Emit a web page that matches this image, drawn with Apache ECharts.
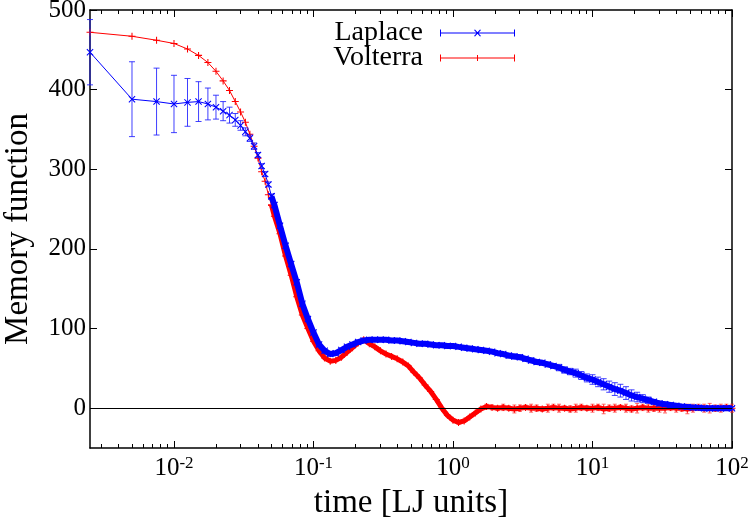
<!DOCTYPE html>
<html>
<head>
<meta charset="utf-8">
<script src="https://cdn.jsdelivr.net/npm/echarts@6/dist/echarts.min.js"></script>
<style>
  html, body { margin: 0; padding: 0; background: #fff; }
  #chartBox { width: 750px; height: 525px; }
</style>
</head>
<body>
<div id="chartBox"></div>
<script>
// time [LJ units] : fine steps at first, then log spaced
var time = [
  0.0025, 0.005, 0.0075, 0.01, 0.0125, 0.015, 0.0175, 0.02, 0.0225, 0.025,
  0.0275, 0.03, 0.0325, 0.035, 0.0375, 0.04, 0.0425, 0.045, 0.0475, 0.05,
  0.05248, 0.05754, 0.0631, 0.06918, 0.07586, 0.08318, 0.0912, 0.1, 0.1096, 0.1202,
  0.1318, 0.1445, 0.1585, 0.1738, 0.1905, 0.2089, 0.2291, 0.2512, 0.2754, 0.302,
  0.3311, 0.3631, 0.3981, 0.4365, 0.4786, 0.5248, 0.5754, 0.631, 0.6918, 0.7586,
  0.8318, 0.912, 1, 1.096, 1.202, 1.318, 1.445, 1.585, 1.738, 1.905,
  2.089, 2.291, 2.512, 2.754, 3.02, 3.311, 3.631, 3.981, 4.365, 4.786,
  5.248, 5.754, 6.31, 6.918, 7.586, 8.318, 9.12, 10, 10.96, 12.02,
  13.18, 14.45, 15.85, 17.38, 19.05, 20.89, 22.91, 25.12, 27.54, 30.2,
  33.11, 36.31, 39.81, 43.65, 47.86, 52.48, 57.54, 63.1, 69.18, 75.86,
  83.18, 91.2, 100
];
var laplace = [
  447, 388, 385, 382, 384, 385, 382, 378, 373, 368,
  362, 355, 347, 339, 329, 318, 304, 294, 281, 266,
  255, 229, 204, 181, 158, 131, 112, 95, 80, 72,
  68, 69, 73, 77, 80, 83, 85, 86, 86, 86,
  86, 85, 85, 84, 83, 82, 81, 81, 80, 79,
  79, 78, 78, 77, 76, 75, 74, 73, 72, 71,
  69, 68, 66, 65, 64, 62, 60, 58, 57, 55,
  53, 51, 48, 46, 44, 41, 38, 36, 33, 30,
  27, 24, 22, 19, 16, 14, 12, 10, 8, 6,
  5, 4, 3, 2, 1.5, 1, 0.5, 0, 0, 0,
  0, 0, 0
];
var laplaceErr = [
  41, 47, 42, 36, 30, 25, 20, 15, 12, 10,
  8, 6, 5, 4, 4, 3, 3, 3, 3, 3,
  3, 3, 3, 3, 3, 2, 2, 2, 2, 2,
  2, 2, 2, 2, 2, 2, 2, 2, 2, 2,
  2, 2, 2, 2, 2, 2, 2, 2, 2, 2,
  2, 2, 2, 2, 2, 2, 2, 2, 2, 2,
  2, 2, 3, 3, 3, 3, 3, 3, 3, 3,
  3, 4, 4, 4, 5, 5, 5, 6, 6, 7,
  7, 8, 8, 8, 7, 6, 5, 4, 3, 3,
  3, 2, 2, 2, 2, 2, 2, 2, 2, 2,
  2, 2, 2
];
var volterra = [
  472, 467, 462, 458, 451, 443, 434, 423, 411, 399,
  385, 372, 359, 344, 329, 314, 297, 285, 268, 255,
  241, 219, 191, 167, 140, 117, 100, 84, 72, 63,
  59, 60, 64, 70, 76, 82, 86, 81, 77, 72,
  68, 65, 62, 58, 53, 45, 38, 29, 21, 11,
  0, -9, -15, -18, -16, -11, -6, -1, 2, 1,
  0, 1, 0, -1, 0, 1, 0, 0, -1, 0,
  1, 0, 0, -1, 0, 1, 0, 0, 1, -1,
  0, 0, 1, 0, -1, 0, 1, 0, 0, 0,
  0, 1, 0, 0, -1, 0, 1, 0, 0, 0,
  0, 1, 0
];
var volterraErr = [
  0, 0, 0, 0, 0, 0, 0, 0, 0, 0,
  0, 0, 0, 0, 0, 0, 0, 0, 0, 0,
  0, 0, 0, 0, 0, 0, 0, 0, 0, 0,
  0, 0, 0, 0, 0, 0, 0, 0, 0, 0,
  0, 0, 0, 0, 0, 0, 0, 1, 1, 1,
  1, 1, 1, 2, 2, 2, 2, 2, 3, 3,
  3, 4, 3, 5, 4, 3, 5, 4, 3, 5,
  4, 5, 3, 4, 5, 4, 3, 5, 4, 6,
  4, 5, 3, 5, 4, 6, 4, 5, 4, 5,
  6, 4, 5, 4, 6, 5, 4, 5, 6, 4,
  5, 4, 5
];
var xMajorTicks = [0.01, 0.1, 1, 10, 100];
var xMinorTicks = [
  0.003, 0.004, 0.005, 0.006, 0.007, 0.008, 0.009,
  0.02, 0.03, 0.04, 0.05, 0.06, 0.07, 0.08, 0.09,
  0.2, 0.3, 0.4, 0.5, 0.6, 0.7, 0.8, 0.9,
  2, 3, 4, 5, 6, 7, 8, 9,
  20, 30, 40, 50, 60, 70, 80, 90
];
var yTicks = [0, 100, 200, 300, 400, 500];

var BLUE = "#0000ff";
var RED = "#ff0000";
var FONT = "Liberation Serif";
var SPLIT = 19; // from here the points are so close that they merge into a band

// marker shapes (x and +)
var crossX = "path://M0,1.06L1.06,0L5,3.94L8.94,0L10,1.06L6.06,5L10,8.94L8.94,10L5,6.06L1.06,10L0,8.94L3.94,5Z";
var crossPlus = "path://M4.25,0H5.75V4.25H10V5.75H5.75V10H4.25V5.75H0V4.25H4.25Z";
// legend sample: line with error caps and marker in the middle
var legendX = "path://M0,0h1v7h-1z M74,0h1v7h-1z M0,3h75v1h-75z M34,0.4L35,0L41,6.6L40,7Z M40,0L41,0.4L35,7L34,6.6Z";
var legendPlus = "path://M0,0h1v7h-1z M74,0h1v7h-1z M0,3h75v1h-75z M37,0.5h1v6h-1z";

function pairs(vals, from, to) {
  var out = [];
  for (var i = from; i < to; i++) out.push([time[i], vals[i]]);
  return out;
}
function bars(vals, errs) {
  var out = [];
  time.forEach(function (t, i) {
    if (errs[i] > 0) out.push([t, vals[i] - errs[i], vals[i] + errs[i]]);
  });
  return out;
}
function errorBars(color, cap) {
  return function (params, api) {
    var hi = api.coord([api.value(0), api.value(2)]);
    var lo = api.coord([api.value(0), api.value(1)]);
    var st = { stroke: color, lineWidth: 1 };
    return {
      type: "group",
      children: [
        { type: "line", shape: { x1: hi[0], y1: hi[1], x2: lo[0], y2: lo[1] }, style: st },
        { type: "line", shape: { x1: hi[0] - cap, y1: hi[1], x2: hi[0] + cap, y2: hi[1] }, style: st },
        { type: "line", shape: { x1: lo[0] - cap, y1: lo[1], x2: lo[0] + cap, y2: lo[1] }, style: st }
      ]
    };
  };
}

function xAxisDef(pos, ticks, len, withLabels, showLine) {
  return {
    type: "log",
    position: pos,
    min: 0.0025,
    max: 100,
    logBase: 10,
    axisLine: { show: showLine, onZero: false, lineStyle: { color: "#000", width: 1.5 } },
    axisTick: { show: true, inside: true, length: len, customValues: ticks, lineStyle: { color: "#000", width: 1 } },
    axisLabel: withLabels ? {
      show: true,
      customValues: xMajorTicks,
      margin: 7,
      formatter: function (v) { return "{b|10}{s|" + Math.round(Math.log10(v)) + "}"; },
      rich: {
        b: { fontFamily: FONT, fontSize: 25, color: "#000", lineHeight: 26, verticalAlign: "bottom", padding: [10, 0, 0, 0] },
        s: { fontFamily: FONT, fontSize: 17, color: "#000", lineHeight: 16, verticalAlign: "top" }
      }
    } : { show: false },
    splitLine: { show: false },
    minorTick: { show: false }
  };
}

function lineSeries(name, vals, from, to, symbol, color, width, z) {
  return {
    name: name,
    type: "line",
    data: pairs(vals, from, to),
    symbol: symbol,
    symbolSize: 7,
    showAllSymbol: true,
    itemStyle: { color: color },
    lineStyle: { color: color, width: width },
    z: z
  };
}

var chart = echarts.init(document.getElementById("chartBox"));

var laplaceDense = lineSeries("Laplace", laplace, SPLIT, time.length, crossX, BLUE, 6, 4);
laplaceDense.markLine = {
  silent: true,
  symbol: "none",
  label: { show: false },
  lineStyle: { color: "#000", width: 1, type: "solid" },
  data: [{ yAxis: 0 }]
};

var option = {
  animation: false,
  backgroundColor: "#fff",
  grid: { left: 90, right: 18, top: 10, bottom: 77, containLabel: false, outerBoundsMode: "none" },
  legend: {
    orient: "vertical",
    align: "right",
    right: 235,
    top: 19,
    padding: 0,
    itemWidth: 75,
    itemHeight: 7,
    itemGap: -3,
    symbolKeepAspect: false,
    selectedMode: false,
    textStyle: { fontFamily: FONT, fontSize: 28, color: "#000", lineHeight: 20, padding: [0, 12, 0, 0] },
    data: [
      { name: "Laplace", icon: legendX },
      { name: "Volterra", icon: legendPlus }
    ]
  },
  xAxis: [
    Object.assign(xAxisDef("bottom", xMajorTicks, 7, true, true), {
      name: "time [LJ units]",
      nameLocation: "middle",
      nameGap: 39,
      nameTextStyle: { fontFamily: FONT, fontSize: 33, color: "#000" }
    }),
    xAxisDef("bottom", xMinorTicks, 4, false, false),
    xAxisDef("top", xMajorTicks, 7, false, true),
    xAxisDef("top", xMinorTicks, 4, false, false)
  ],
  yAxis: [
    {
      type: "value",
      position: "left",
      min: -50,
      max: 500,
      name: "Memory function",
      nameLocation: "middle",
      nameGap: 55,
      nameTextStyle: { fontFamily: FONT, fontSize: 33, color: "#000" },
      axisLine: { show: true, onZero: false, lineStyle: { color: "#000", width: 1.5 } },
      axisTick: { show: true, inside: true, length: 7, customValues: yTicks, lineStyle: { color: "#000" } },
      axisLabel: { customValues: yTicks, margin: 4, fontFamily: FONT, fontSize: 25, color: "#000" },
      splitLine: { show: false }
    },
    {
      type: "value",
      position: "right",
      min: -50,
      max: 500,
      axisLine: { show: true, onZero: false, lineStyle: { color: "#000", width: 1.5 } },
      axisTick: { show: true, inside: true, length: 7, customValues: yTicks, lineStyle: { color: "#000" } },
      axisLabel: { show: false },
      splitLine: { show: false }
    }
  ],
  series: [
    lineSeries("Volterra", volterra, 0, SPLIT + 1, crossPlus, RED, 1, 2),
    lineSeries("Volterra", volterra, SPLIT, time.length, crossPlus, RED, 5, 2),
    {
      name: "VolterraErr",
      type: "custom",
      data: bars(volterra, volterraErr),
      encode: { x: 0, y: [1, 2] },
      renderItem: errorBars("rgba(255,40,40,0.7)", 2),
      z: 2,
      silent: true
    },
    {
      name: "LaplaceErr",
      type: "custom",
      data: bars(laplace, laplaceErr),
      encode: { x: 0, y: [1, 2] },
      renderItem: errorBars("rgba(30,30,255,0.85)", 3),
      z: 3,
      silent: true
    },
    lineSeries("Laplace", laplace, 0, SPLIT + 1, crossX, BLUE, 1, 4),
    laplaceDense
  ]
};

chart.setOption(option);
</script>
</body>
</html>
